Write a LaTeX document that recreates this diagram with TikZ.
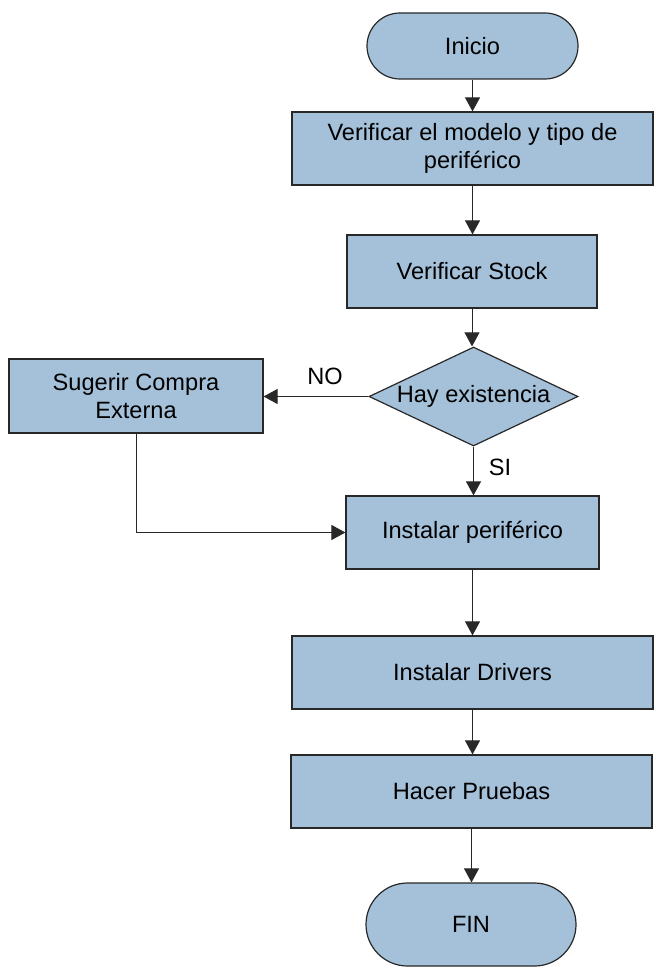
\documentclass[tikz,border=0pt]{standalone}
\usepackage{fontspec}
\setmainfont{Liberation Sans}
\usetikzlibrary{arrows.meta,shapes.geometric}
\definecolor{boxfill}{RGB}{164,193,217}
\definecolor{edge}{RGB}{40,40,40}
\begin{document}
\begin{tikzpicture}[x=0.5pt,y=-0.5pt,
  every node/.style={font=\fontsize{11.8}{13.8}\selectfont},
  procbox/.style={draw=edge,line width=0.6pt,fill=boxfill,rectangle,inner sep=0pt,
    minimum height=36.5pt,align=center},
  term/.style={draw=edge,line width=0.6pt,fill=boxfill,rectangle,inner sep=0pt,align=center},
  decision/.style={draw=edge,line width=0.6pt,fill=boxfill,diamond,inner sep=0pt,
    minimum width=104.5pt,minimum height=49.5pt},
  conn/.style={draw=edge,line width=0.5pt,-{Triangle[length=7pt,width=7.5pt]}},
  lbl/.style={inner sep=0pt}]
\useasboundingbox (0,0) rectangle (656,972);

\node[term,minimum width=105.5pt,minimum height=33pt,rounded corners=16.5pt] (inicio) at (472.5,46) {Inicio};
\node[procbox,minimum width=180.5pt] (b1) at (472.5,148.5) {Verificar el modelo y tipo de\\periférico};
\node[procbox,minimum width=125pt] (b2) at (472,271.5) {Verificar Stock};
\node[decision] (d) at (473.5,396.5) {};
\node[lbl] (dtext) at (d.center) {Hay existencia};
\node[procbox,minimum width=127pt,minimum height=37pt] (sug) at (136,396) {Sugerir Compra\\Externa};
\node[procbox,minimum width=126.5pt] (ip) at (472.5,532.5) {Instalar periférico};
\node[procbox,minimum width=180.5pt] (drv) at (472.5,672.5) {Instalar Drivers};
\node[procbox,minimum width=180.5pt] (pr) at (471.5,791.5) {Hacer Pruebas};
\node[term,minimum width=105pt,minimum height=41.5pt,rounded corners=20.75pt] (fin) at (471,924.5) {FIN};

\node[lbl] (no) at (325,376) {NO};
\node[lbl] (si) at (500,467) {SI};

\draw[conn] (inicio.south) -- (inicio.south |- b1.north);
\draw[conn] (b1.south) -- (b1.south |- b2.north);
\draw[conn] (b2.south) -- (b2.south |- d.north);
\draw[conn] (d.west) -- (d.west -| sug.east);
\draw[conn] (d.south) -- (d.south |- ip.north);
\draw[conn] (sug.south) |- (ip.west);
\draw[conn] (ip.south) -- (ip.south |- drv.north);
\draw[conn] (drv.south) -- (drv.south |- pr.north);
\draw[conn] (pr.south) -- (pr.south |- fin.north);
\end{tikzpicture}
\end{document}
